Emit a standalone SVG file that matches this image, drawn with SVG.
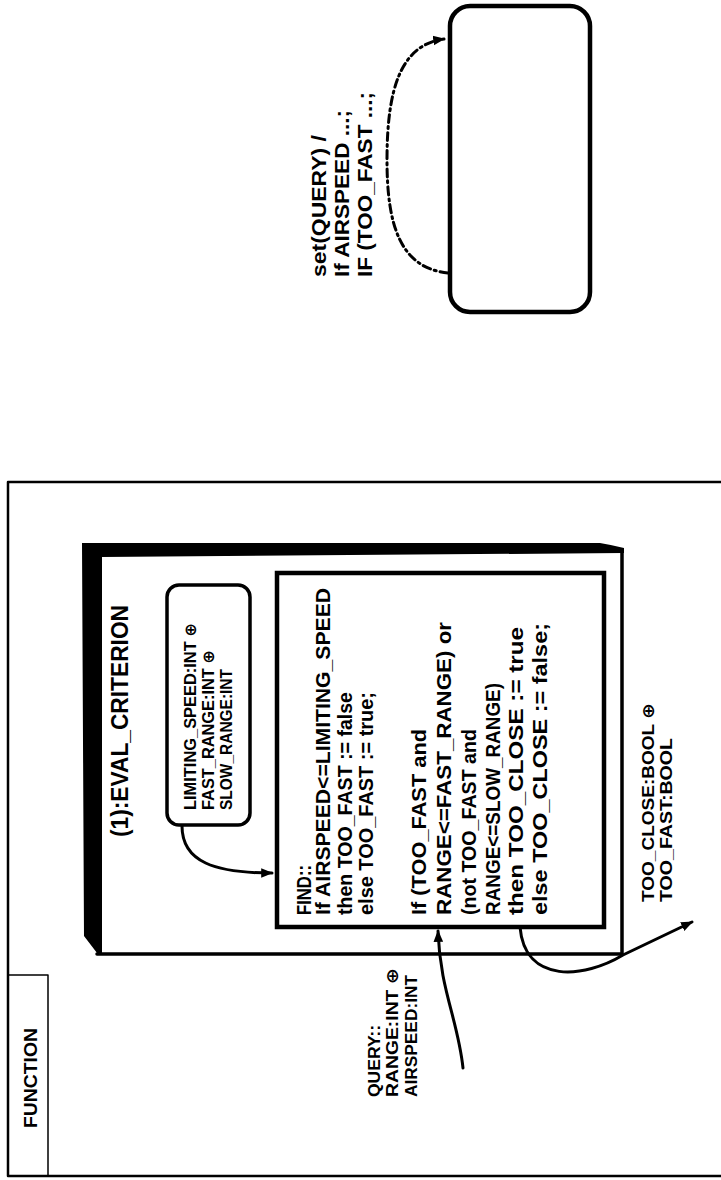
<svg xmlns="http://www.w3.org/2000/svg" width="721" height="1180" viewBox="0 0 721 1180">
<style>
.t{font-family:"Liberation Sans",Arial,"DejaVu Sans",sans-serif;fill:#000;font-weight:bold}
.ln{fill:none;stroke:#000;stroke-linecap:round;stroke-linejoin:round}
.c{fill:none;stroke:#000;stroke-width:3;stroke-linecap:round}
</style>
<defs>
<marker id="ah" viewBox="0 0 10 10" refX="9" refY="5" markerWidth="4" markerHeight="4" orient="auto" markerUnits="strokeWidth"><path d="M0,1 L10,5 L0,9 Z" fill="#000"/></marker>
</defs>
<rect width="721" height="1180" fill="#fff"/>
<g id="function-frame">
<path class="ln" d="M721,482 H8 V1176 H721" stroke-width="2.5"/>
<path class="ln" d="M8,975 H48 V1176" stroke-width="1.5"/>
<text class="t" transform="translate(37,1128) rotate(-90)" font-size="19" font-weight="normal" textLength="100" lengthAdjust="spacingAndGlyphs">FUNCTION</text>
</g>
<g id="eval-criterion">
<path d="M97,954 H622 V550" class="ln" stroke-width="3.5"/>
<path d="M82,543 H600 Q612,545 624,548 V553 L102,557 V953 H97 L84,936 Z" fill="#000"/>
<text class="t" transform="translate(128,837) rotate(-90)" font-size="23" font-weight="normal" textLength="232" lengthAdjust="spacingAndGlyphs">(1):EVAL_CRITERION</text>
</g>
<g id="constants">
<rect x="167" y="585" width="83" height="240" rx="12" fill="#fff" stroke="#000" stroke-width="3.5"/>
<g transform="translate(0,810) rotate(-90)">
<text class="t" x="0" y="196" font-size="16" textLength="187" lengthAdjust="spacingAndGlyphs">LIMITING_SPEED:INT ⊕</text>
<text class="t" x="0" y="214" font-size="16" textLength="160" lengthAdjust="spacingAndGlyphs">FAST_RANGE:INT ⊕</text>
<text class="t" x="0" y="232" font-size="16" textLength="141" lengthAdjust="spacingAndGlyphs">SLOW_RANGE:INT</text>
</g>
</g>
<g id="find">
<rect x="277" y="573" width="327" height="354" fill="#fff" stroke="#000" stroke-width="4.5"/>
<g transform="translate(0,915) rotate(-90)" font-size="21">
<text class="t" x="0" y="311" textLength="50" lengthAdjust="spacingAndGlyphs">FIND::</text>
<text class="t" x="0" y="330" textLength="327" lengthAdjust="spacingAndGlyphs">If AIRSPEED&lt;=LIMITING_SPEED</text>
<text class="t" x="0" y="352" textLength="223" lengthAdjust="spacingAndGlyphs">then TOO_FAST := false</text>
<text class="t" x="0" y="373" textLength="223" lengthAdjust="spacingAndGlyphs">else TOO_FAST := true;</text>
<text class="t" x="0" y="426" textLength="186" lengthAdjust="spacingAndGlyphs">If (TOO_FAST and</text>
<text class="t" x="0" y="451" textLength="293" lengthAdjust="spacingAndGlyphs">RANGE&lt;=FAST_RANGE) or</text>
<text class="t" x="0" y="476" textLength="186" lengthAdjust="spacingAndGlyphs">(not TOO_FAST and</text>
<text class="t" x="0" y="500" textLength="232" lengthAdjust="spacingAndGlyphs">RANGE&lt;=SLOW_RANGE)</text>
<text class="t" x="0" y="523" textLength="288" lengthAdjust="spacingAndGlyphs">then TOO_CLOSE := true</text>
<text class="t" x="0" y="547" textLength="292" lengthAdjust="spacingAndGlyphs">else TOO_CLOSE := false;</text>
</g>
</g>
<g id="state">
<rect x="450" y="6" width="140" height="306" rx="20" fill="#fff" stroke="#000" stroke-width="4.5"/>
</g>
<g id="connectors">
<path class="c" d="M182,826 C182,862 215,873 272,873" stroke-width="2.5" marker-end="url(#ah)"/>
<path class="c" d="M463,1068 C458,1020 440,990 438,931" marker-end="url(#ah)"/>
<path class="c" d="M520,927 C525,985 585,978 623,955 L692,922" marker-end="url(#ah)"/>
<path class="c" d="M448,273 C400,268 387,225 387,160 C387,90 400,45 444,39" stroke-width="2.5" stroke-dasharray="8 4 2 4" marker-end="url(#ah)"/>
</g>
<g id="labels">
<g transform="translate(0,1097) rotate(-90)" font-size="17">
<text class="t" x="0" y="380" textLength="72" lengthAdjust="spacingAndGlyphs">QUERY::</text>
<text class="t" x="0" y="398" textLength="129" lengthAdjust="spacingAndGlyphs">RANGE:INT ⊕</text>
<text class="t" x="0" y="417" textLength="122" lengthAdjust="spacingAndGlyphs">AIRSPEED:INT</text>
</g>
<g transform="translate(0,902) rotate(-90)" font-size="17">
<text class="t" x="0" y="654" textLength="199" lengthAdjust="spacingAndGlyphs">TOO_CLOSE:BOOL ⊕</text>
<text class="t" x="0" y="672" textLength="164" lengthAdjust="spacingAndGlyphs">TOO_FAST:BOOL</text>
</g>
<g transform="translate(0,277) rotate(-90)" font-size="20">
<text class="t" x="0" y="326" textLength="142" lengthAdjust="spacingAndGlyphs">set(QUERY) /</text>
<text class="t" x="0" y="349" textLength="167" lengthAdjust="spacingAndGlyphs">If AIRSPEED ...;</text>
<text class="t" x="0" y="372" textLength="185" lengthAdjust="spacingAndGlyphs">IF (TOO_FAST ...;</text>
</g>
</g>
</svg>
